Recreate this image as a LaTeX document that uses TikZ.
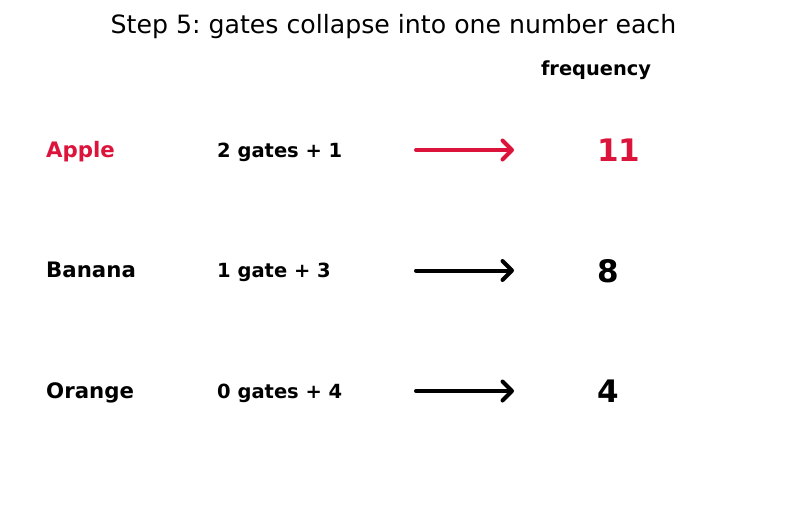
\documentclass[tikz,border=0pt]{standalone}
\usepackage{fontspec}
\setmainfont{DejaVu Sans}
\usetikzlibrary{arrows.meta}
\definecolor{hl}{HTML}{DC143C}
\frenchspacing
\tikzset{
  title/.style={font=\fontsize{25.2}{30}\selectfont, inner sep=0pt},
  fruit/.style={font=\bfseries\fontsize{21.3}{25}\selectfont, anchor=base west, inner sep=0pt},
  gates/.style={font=\bfseries\fontsize{19.5}{23}\selectfont, anchor=base west, inner sep=0pt},
  freq/.style={font=\bfseries\fontsize{31}{36}\selectfont, anchor=base west, inner sep=0pt},
  hdr/.style={font=\bfseries\fontsize{19.4}{23}\selectfont, inner sep=0pt},
  arr/.style={line width=4pt, line cap=round, -{Straight Barb[length=9.5pt,width=19pt,line cap=round,line join=round]}},
}
\begin{document}
\begin{tikzpicture}[x=1pt,y=-1pt]
\useasboundingbox (0,0) rectangle (787,511);
\node[title, anchor=base] (t) at (393.5,34) {Step 5: gates collapse into one number each};
\node[hdr, anchor=base] (h) at (596,75) {frequency};

\node[fruit, text=hl] (f1) at (46,157) {Apple};
\node[gates] (g1) at (217,157) {2 gates + 1};
\coordinate (a1s) at (416,150);
\coordinate (a1e) at (514,150);
\draw[arr, hl] (a1s) -- (a1e);
\node[freq, text=hl] (n1) at (597,161) {11};

\node[fruit] (f2) at (46,277.5) {Banana};
\node[gates] (g2) at (217,277.5) {1 gate + 3};
\coordinate (a2s) at (416,270.5);
\coordinate (a2e) at (514,270.5);
\draw[arr] (a2s) -- (a2e);
\node[freq] (n2) at (597,282) {8};

\node[fruit] (f3) at (46,398) {Orange};
\node[gates] (g3) at (217,398) {0 gates + 4};
\coordinate (a3s) at (416,391);
\coordinate (a3e) at (514,391);
\draw[arr] (a3s) -- (a3e);
\node[freq] (n3) at (597,402.5) {4};
\end{tikzpicture}
\end{document}
